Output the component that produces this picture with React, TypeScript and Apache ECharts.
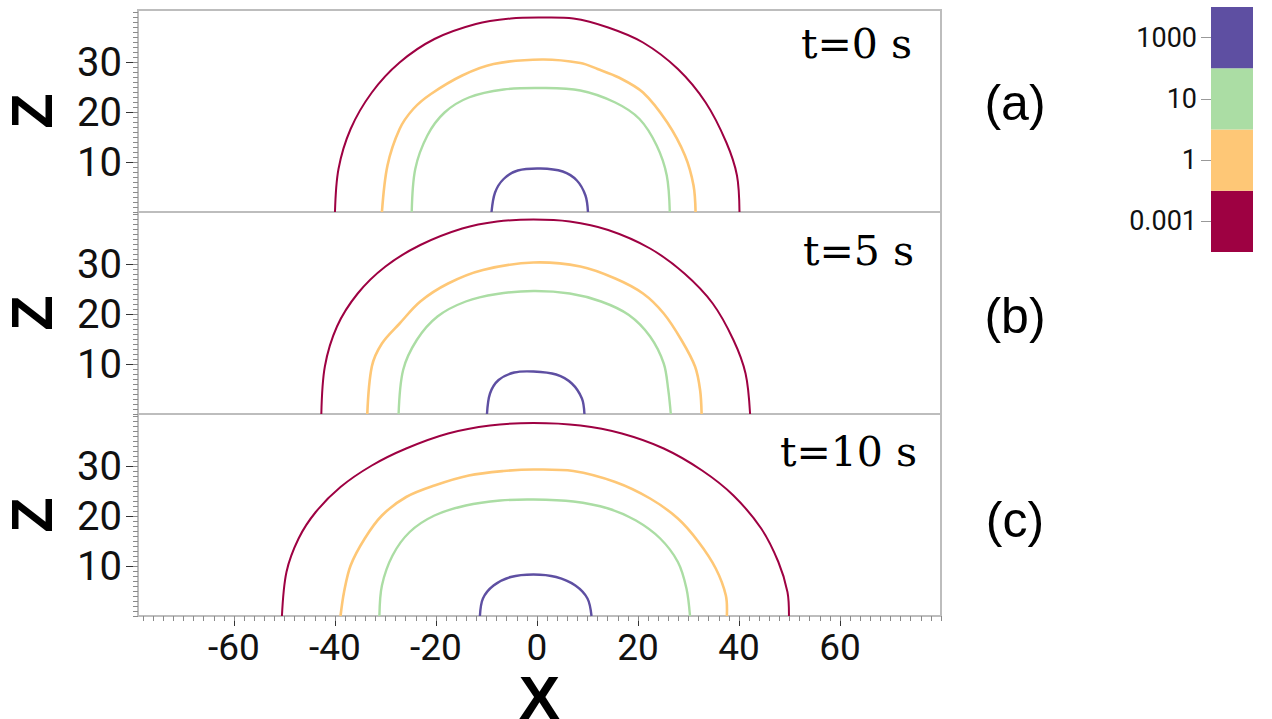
import React, { useEffect, useRef } from "react";
import * as echarts from "echarts";

// ---- tick labels ----
const xTickValues = [-60, -40, -20, 0, 20, 40, 60];
const zTickValues = [10, 20, 30];
const panelTimes = ["t=0 s", "t=5 s", "t=10 s"];
const panelLetters = ["(a)", "(b)", "(c)"];

// ---- colour bar levels (bottom to top) ----
const legendLevels = ["0.001", "1", "10", "1000"];
const legendColors = ["#9e0142", "#fec776", "#abdda4", "#5e4fa2"];

// ---- contours, panel (a) t=0 s : [x, z] ----
const a_0001: number[][] = [
  [-40.0, 0], [-39.3, 8.6], [-36.9, 16.6], [-32.7, 23.9], [-27.2, 29.9], [-20.3, 34.6], [-12.1, 37.6],
  [-5.2, 38.7], [0.3, 38.9], [7.2, 38.7], [14.1, 36.9], [21.0, 33.9], [27.9, 28.6], [33.4, 21.9],
  [37.5, 13.9], [39.6, 7.3], [40.1, 0],
];
const a_1: number[][] = [
  [-30.7, 0], [-29.6, 9.3], [-27.2, 16.6], [-24.5, 20.6], [-21.0, 23.6], [-14.8, 27.3], [-8.6, 29.6],
  [1.0, 30.5], [8.6, 29.8], [12.0, 28.6], [16.2, 26.9], [21.0, 23.9], [25.8, 17.9], [29.3, 11.3],
  [31.0, 5.3], [31.4, 0],
];
const a_10: number[][] = [
  [-24.8, 0], [-24.1, 8.6], [-21.7, 15.3], [-18.3, 19.9], [-13.5, 22.9], [-6.6, 24.5], [1.0, 24.8],
  [8.6, 24.3], [15.5, 21.9], [20.3, 18.6], [23.7, 13.3], [25.7, 7.3], [26.3, 0],
];
const a_1000: number[][] = [
  [-9.0, 0], [-8.3, 3.9], [-6.6, 6.6], [-3.8, 8.3], [0.7, 8.7], [5.1, 8.1], [7.9, 6.3], [9.6, 3.3], [10.1, 0],
];

// ---- panel (b) t=5 s ----
const b_0001: number[][] = [
  [-42.7, 0], [-42.0, 9.5], [-39.6, 17.5], [-35.5, 24.1], [-30.0, 29.5], [-23.1, 33.8], [-14.8, 37.1],
  [-7.9, 38.5], [-0.7, 38.9], [6.5, 38.5], [14.1, 36.8], [22.4, 33.1], [29.2, 28.1], [34.8, 22.1],
  [38.9, 14.8], [41.3, 8.1], [42.2, 0],
];
const b_1: number[][] = [
  [-33.6, 0], [-32.7, 9.5], [-30.7, 14.1], [-27.2, 18.1], [-23.1, 22.5], [-17.6, 26.1], [-10.7, 28.8],
  [-0.7, 30.3], [8.6, 29.5], [15.5, 27.1], [21.0, 24.1], [25.1, 20.1], [28.6, 14.8], [31.3, 9.5],
  [32.3, 4.8], [32.6, 0],
];
const b_10: number[][] = [
  [-27.4, 0], [-26.5, 8.8], [-23.8, 14.8], [-19.7, 19.5], [-14.1, 22.5], [-7.9, 24.0], [-0.7, 24.6],
  [6.5, 24.1], [12.7, 22.5], [18.2, 19.8], [22.4, 15.5], [25.1, 10.1], [26.0, 4.8], [26.5, 0],
];
const b_1000: number[][] = [
  [-9.9, 0], [-9.3, 4.1], [-7.6, 6.8], [-4.5, 8.3], [-0.7, 8.5], [3.8, 7.9], [6.9, 6.1], [8.9, 3.1], [9.4, 0],
];

// ---- panel (c) t=10 s ----
const c_0001: number[][] = [
  [-50.5, 0], [-49.6, 8.8], [-47.2, 15.5], [-43.8, 20.8], [-38.9, 25.8], [-32.7, 30.1], [-25.9, 33.5],
  [-17.6, 36.5], [-9.3, 38.1], [-0.7, 38.6], [8.6, 38.1], [16.8, 36.5], [25.1, 33.5], [32.7, 29.1],
  [38.9, 24.1], [44.4, 17.5], [47.8, 10.8], [49.6, 4.8], [49.9, 0],
];
const c_1: number[][] = [
  [-38.9, 0], [-38.2, 4.8], [-36.9, 10.1], [-34.1, 15.5], [-30.7, 20.1], [-25.9, 23.8], [-20.3, 26.1],
  [-13.5, 28.1], [-6.6, 29.0], [-0.7, 29.3], [7.2, 29.0], [15.5, 26.8], [22.4, 23.5], [27.9, 19.5],
  [32.0, 14.8], [35.4, 9.5], [37.4, 4.1], [37.6, 0],
];
const c_10: number[][] = [
  [-31.2, 0], [-30.7, 6.1], [-28.6, 12.1], [-25.2, 16.8], [-20.3, 20.1], [-14.1, 22.1], [-7.3, 23.1],
  [-0.7, 23.3], [7.2, 22.9], [14.1, 21.5], [19.6, 19.1], [24.4, 15.5], [27.9, 10.8], [29.6, 5.5], [30.3, 0],
];
const c_1000: number[][] = [
  [-11.3, 0], [-10.7, 3.5], [-8.6, 6.1], [-5.2, 7.8], [-0.7, 8.3], [3.8, 7.8], [7.6, 6.1], [10.0, 3.5], [10.8, 0],
];

const panels = [
  [a_0001, a_1, a_10, a_1000],
  [b_0001, b_1, b_10, b_1000],
  [c_0001, c_1, c_10, c_1000],
];
const lineWidths = [2, 2.6, 2.4, 2.4];

const X_MIN = -79;
const X_MAX = 80;
const Z_MIN = 0;
const Z_MAX = 40.4;

const PANEL_LEFT = 138;
const PANEL_WIDTH = 803;
const PANEL_TOPS = [10, 212, 414];
const PANEL_HEIGHT = 202;

const FONT = "Roboto, 'Noto Sans', sans-serif";

export default function App() {
  const ref = useRef<HTMLDivElement>(null);

  useEffect(() => {
    if (!ref.current) return;
    const chart = echarts.init(ref.current, undefined, { renderer: "svg" });

    const minorZ: number[] = [];
    for (let v = 0; v <= 40; v += 1) minorZ.push(v);
    const minorX: number[] = [];
    for (let v = -78; v <= 80; v += 2) minorX.push(v);

    const grids: any[] = PANEL_TOPS.map((top) => ({
      left: PANEL_LEFT,
      top,
      width: PANEL_WIDTH,
      height: PANEL_HEIGHT,
      show: true,
      borderColor: "#bdbdbd",
      borderWidth: 2,
      backgroundColor: "transparent",
      containLabel: false,
      outerBoundsMode: "none",
    }));
    grids.push({
      left: 1211,
      top: 7,
      width: 42,
      height: 245,
      containLabel: false,
      outerBoundsMode: "none",
    });

    const xAxes: any[] = [0, 1, 2].map((i) => ({
      type: "value",
      gridIndex: i,
      min: X_MIN,
      max: X_MAX,
      show: i === 2,
      position: "bottom",
      axisLine: { show: false, onZero: false },
      splitLine: { show: false },
      axisTick: {
        show: true,
        customValues: xTickValues,
        length: 10,
        lineStyle: { color: "#333", width: 1 },
      },
      axisLabel: {
        customValues: xTickValues,
        fontSize: 37,
        lineHeight: 34,
        fontFamily: FONT,
        color: "#111",
        margin: 14,
      },
      name: i === 2 ? "X" : "",
      nameLocation: "middle",
      nameGap: 50,
      nameTextStyle: {
        fontSize: 62,
        lineHeight: 44,
        fontWeight: "bold",
        fontFamily: "'Liberation Sans', Arial, sans-serif",
        color: "#000",
      },
    }));
    // minor x ticks on the bottom panel
    xAxes.push({
      type: "value",
      gridIndex: 2,
      min: X_MIN,
      max: X_MAX,
      position: "bottom",
      axisLine: { show: false, onZero: false },
      splitLine: { show: false },
      axisLabel: { show: false },
      axisTick: {
        show: true,
        customValues: minorX,
        length: 5,
        lineStyle: { color: "#8a8a8a", width: 1 },
      },
    });
    // colour bar x axis
    xAxes.push({ type: "value", gridIndex: 3, min: 0, max: 1, show: false });

    const yAxes: any[] = [0, 1, 2].map((i) => ({
      type: "value",
      gridIndex: i,
      min: Z_MIN,
      max: Z_MAX,
      position: "left",
      axisLine: { show: false, onZero: false },
      splitLine: { show: false },
      axisTick: {
        show: true,
        customValues: zTickValues,
        length: 12,
        lineStyle: { color: "#333", width: 1 },
      },
      axisLabel: {
        customValues: zTickValues,
        fontSize: 40,
        fontFamily: FONT,
        color: "#111",
        margin: 16,
      },
      name: "Z",
      nameLocation: "middle",
      nameRotate: 90,
      nameGap: 78,
      nameTextStyle: {
        fontSize: 58,
        fontWeight: "bold",
        fontFamily: "'Liberation Sans', Arial, sans-serif",
        color: "#000",
      },
    }));
    [0, 1, 2].forEach((i) =>
      yAxes.push({
        type: "value",
        gridIndex: i,
        min: Z_MIN,
        max: Z_MAX,
        position: "left",
        axisLine: { show: false, onZero: false },
        splitLine: { show: false },
        axisLabel: { show: false },
        axisTick: {
          show: true,
          customValues: minorZ,
          length: 5,
          lineStyle: { color: "#8a8a8a", width: 1 },
        },
      })
    );
    // colour bar y axis (index 6)
    yAxes.push({
      type: "category",
      gridIndex: 3,
      data: legendLevels,
      position: "left",
      axisLine: { show: false, onZero: false },
      axisTick: {
        show: true,
        alignWithLabel: true,
        length: 10,
        lineStyle: { color: "#999", width: 1 },
      },
      axisLabel: { fontSize: 27, fontFamily: FONT, color: "#111", margin: 14 },
      splitLine: { show: false },
    });

    const series: any[] = [];
    panels.forEach((curves, p) => {
      curves.forEach((pts, k) => {
        series.push({
          type: "custom",
          name: legendLevels[k],
          coordinateSystem: "cartesian2d",
          xAxisIndex: p,
          yAxisIndex: p,
          data: pts,
          encode: { x: 0, y: 1 },
          silent: true,
          clip: false,
          renderItem: (params: any, api: any) => {
            if (params.dataIndex !== 0) return null;
            const points = pts.map((d) => api.coord(d));
            return {
              type: "polyline",
              shape: { points, smooth: 0.33 },
              style: {
                stroke: legendColors[k],
                lineWidth: lineWidths[k],
                fill: "none",
                lineJoin: "round",
              },
            };
          },
        });
      });
    });
    series.push({
      type: "bar",
      xAxisIndex: 4,
      yAxisIndex: 6,
      data: legendLevels.map((_, i) => ({ value: 1, itemStyle: { color: legendColors[i] } })),
      barWidth: "100%",
      barCategoryGap: "0%",
      silent: true,
    });

    const timeCenters = [44, 251, 452];
    const timeRights = [912, 914, 917];
    const letterCenters = [103, 316, 520];

    const graphic: any[] = [];
    panelTimes.forEach((t, i) => {
      graphic.push({
        type: "text",
        x: timeRights[i],
        y: timeCenters[i],
        style: {
          text: t,
          fontSize: 41,
          fontFamily: "'DejaVu Serif', 'Liberation Serif', serif",
          fill: "#000",
          align: "right",
          verticalAlign: "middle",
        },
        silent: true,
      });
    });
    panelLetters.forEach((t, i) => {
      graphic.push({
        type: "text",
        x: 1015,
        y: letterCenters[i],
        style: {
          text: t,
          fontSize: 50,
          fontFamily: "'Liberation Sans', Arial, sans-serif",
          fill: "#000",
          align: "center",
          verticalAlign: "middle",
        },
        silent: true,
      });
    });

    chart.setOption({
      animation: false,
      backgroundColor: "#ffffff",
      grid: grids,
      xAxis: xAxes,
      yAxis: yAxes,
      series,
      graphic,
    });

    return () => chart.dispose();
  }, []);

  return (
    <div
      ref={ref}
      style={{ position: "fixed", left: 0, top: 0, width: 1272, height: 719 }}
    />
  );
}
